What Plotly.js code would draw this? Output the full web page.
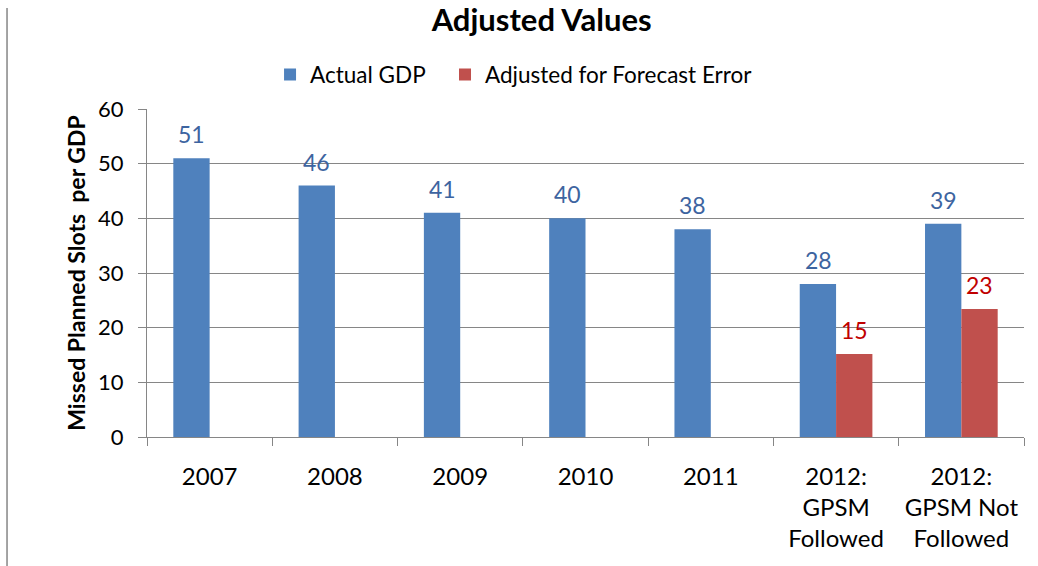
<!DOCTYPE html>
<html>
<head>
<meta charset="utf-8">
<script src="https://cdn.plot.ly/plotly-3.0.1.min.js"></script>
<style>html,body{margin:0;padding:0;background:#fff;}#chart{width:1038px;height:566px;}</style>
</head>
<body>
<div id="chart"></div>
<script>
var categories = ["2007", "2008", "2009", "2010", "2011", "2012:<br>GPSM<br>Followed", "2012:<br>GPSM Not<br>Followed"];
var actualGDP = [51, 46, 41, 40, 38, 28, 39];
var adjusted = [null, null, null, null, null, 15.2, 23.4];
var seriesNames = ["Actual GDP", "Adjusted for Forecast Error"];

var FONT = "Lato, 'Open Sans', sans-serif";
var BLUE = "#4f81bd", RED = "#c0504d";

var traces = [
  {type: "bar", name: seriesNames[0], x: categories, y: actualGDP, marker: {color: BLUE}, hoverinfo: "y", legend: "legend"},
  {type: "bar", name: seriesNames[1], x: categories, y: adjusted, marker: {color: RED}, hoverinfo: "y", legend: "legend2"}
];

var annotations = [];
function addLabels(vals, color, xshift) {
  vals.forEach(function (v, i) {
    if (v === null) return;
    annotations.push({
      x: i, y: v, xref: "x", yref: "y",
      text: String(Math.round(v)), showarrow: false,
      xanchor: "center", yanchor: "middle", xshift: xshift, yshift: 24,
      font: {family: FONT, size: 23, color: color}
    });
  });
}
addLabels(actualGDP, "#3d64a0", -18);
addLabels(adjusted, "#c00000", 18);

var legendFont = {family: FONT, size: 22.5, color: "#000"};

var layout = {
  width: 1038, height: 566,
  margin: {l: 147, r: 14, t: 109, b: 129},
  paper_bgcolor: "#fff", plot_bgcolor: "#fff",
  font: {family: FONT, color: "#000"},
  barmode: "group", bargap: 0.42, bargroupgap: 0,
  title: {text: "<b>Adjusted Values</b>", font: {family: FONT, size: 31, color: "#000"}, xref: "paper", x: 0.45, xanchor: "center", y: 0.965, yanchor: "middle"},
  showlegend: true,
  legend: {orientation: "h", x: 0.1403, xanchor: "left", y: 1.104, yanchor: "middle", font: legendFont, itemwidth: 30},
  legend2: {orientation: "h", x: 0.3398, xanchor: "left", y: 1.104, yanchor: "middle", font: legendFont, itemwidth: 30},
  xaxis: {
    type: "category", categoryorder: "array", categoryarray: categories, range: [-0.5, categories.length - 0.5],
    tickson: "boundaries", ticks: "outside", ticklen: 8, tickcolor: "#868686",
    showline: true, linecolor: "#868686", linewidth: 1, showgrid: false, tickangle: 0,
    tickfont: {family: FONT, size: 24, color: "#000"}, ticklabelstandoff: 18, automargin: false
  },
  yaxis: {
    range: [0, 60], dtick: 10, ticks: "outside", ticklen: 8, tickcolor: "#868686",
    showline: true, linecolor: "#868686", linewidth: 1,
    showgrid: true, gridcolor: "#868686", gridwidth: 1, zeroline: false,
    tickfont: {family: FONT, size: 22, color: "#000"}, ticklabelstandoff: 10,
    title: {text: "<b>Missed Planned Slots  per GDP</b>", font: {family: FONT, size: 23, color: "#000"}, standoff: 6},
    automargin: false
  },
  annotations: annotations,
  shapes: [
    {type: "line", xref: "paper", yref: "paper", x0: -0.1596, x1: -0.1596, y0: 1.308, y1: -0.4, line: {color: "#868686", width: 1.5}}
  ]
};

Plotly.newPlot("chart", traces, layout, {displayModeBar: false, staticPlot: true});
</script>
</body>
</html>
